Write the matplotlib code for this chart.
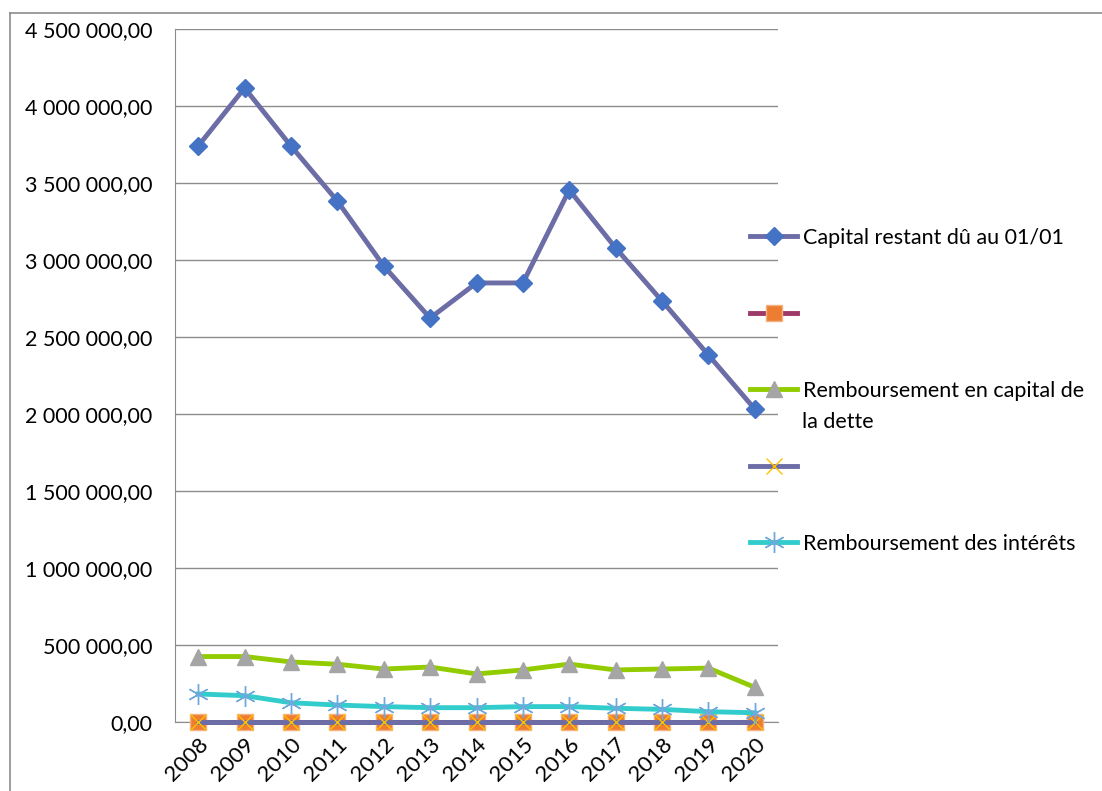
import matplotlib.pyplot as plt
from matplotlib.lines import Line2D
from matplotlib.ticker import FuncFormatter

years = ["2008", "2009", "2010", "2011", "2012", "2013", "2014",
         "2015", "2016", "2017", "2018", "2019", "2020"]
capital_restant = [3740000, 4117000, 3740000, 3383000, 2961000, 2623000, 2851000,
                   2851000, 3455000, 3078000, 2734000, 2383000, 2032000]
serie_vide_1 = [0] * 13
remb_capital = [425000, 425000, 390000, 375000, 344000, 357000, 312000,
                338000, 376000, 338000, 344000, 350000, 225000]
serie_vide_2 = [0] * 13
remb_interets = [182000, 171000, 125000, 110000, 100000, 93000, 93000,
                 100000, 100000, 89000, 82000, 67000, 60000]

labels = ["Capital restant dû au 01/01", "",
          "Remboursement en capital de", "",
          "Remboursement des intérêts"]

plt.rcParams['font.family'] = ['Lato', 'DejaVu Sans']
fs = 15.5

fig = plt.figure(figsize=(11.02, 7.91), dpi=100)
ax = fig.add_axes([175 / 1102, 69 / 791, 603 / 1102, 693 / 791])

x = list(range(len(years)))
lw = 3.5
h1, = ax.plot(x, capital_restant, color="#6C6CA6", lw=lw, marker="D", ms=9,
              mfc="#4472C4", mec="#4472C4", zorder=3, clip_on=False)
h2, = ax.plot(x, serie_vide_1, color="#9E3A6A", lw=lw, marker="s", ms=12,
              mfc="#ED7D31", mec="#F4B183", zorder=3, clip_on=False)
h3, = ax.plot(x, remb_capital, color="#92CC00", lw=lw, marker="^", ms=12,
              mfc="#A5A5A5", mec="#A5A5A5", zorder=3, clip_on=False)
h4, = ax.plot(x, serie_vide_2, color="#6C6CA6", lw=lw, marker="x", ms=12,
              mec="#FFC000", mew=1, zorder=3, clip_on=False)
h5, = ax.plot(x, remb_interets, color="#33CCCC", lw=lw, marker=(6, 2, 0), ms=15,
              mec="#6FA8DC", mew=1, zorder=3, clip_on=False)

ax.set_xlim(-0.5, len(years) - 0.5)
ax.set_ylim(0, 4500000)
ax.set_yticks(range(0, 4500001, 500000))


def fmt(v, pos):
    s = f"{v:,.2f}"
    return s.replace(",", " ").replace(".", ",")


ax.yaxis.set_major_formatter(FuncFormatter(fmt))
ax.set_xticks(x)
ax.set_xticklabels(years, rotation=45, ha="right", rotation_mode="anchor")
ax.tick_params(axis="y", labelsize=fs, length=0, pad=16.5)
ax.tick_params(axis="x", labelsize=fs + 0.5, length=0, pad=9)
ax.grid(axis="y", color="#8C8C8C", lw=1)
ax.set_axisbelow(True)
for side in ["top", "right"]:
    ax.spines[side].set_visible(False)
for side in ["left", "bottom"]:
    ax.spines[side].set_color("#8C8C8C")

leg = fig.legend([h1, h2, h3, h4, h5], labels, loc="upper left",
                 bbox_to_anchor=(750 / 1102, 1 - 228 / 791), frameon=False,
                 fontsize=fs, handlelength=2.2, handletextpad=0.25,
                 labelspacing=2.62, borderpad=0, borderaxespad=0)
# second line of the wrapped legend label
fig.text(802 / 1102, 1 - 422 / 791, "la dette", fontsize=fs, va="center")

# cadre du graphique
fig.add_artist(Line2D([10 / 1102, 1], [1 - 13 / 791] * 2, color="#8C8C8C", lw=1.2))
fig.add_artist(Line2D([10 / 1102] * 2, [0, 1 - 13 / 791], color="#8C8C8C", lw=1.2))

fig.savefig("out.png", dpi=100)
